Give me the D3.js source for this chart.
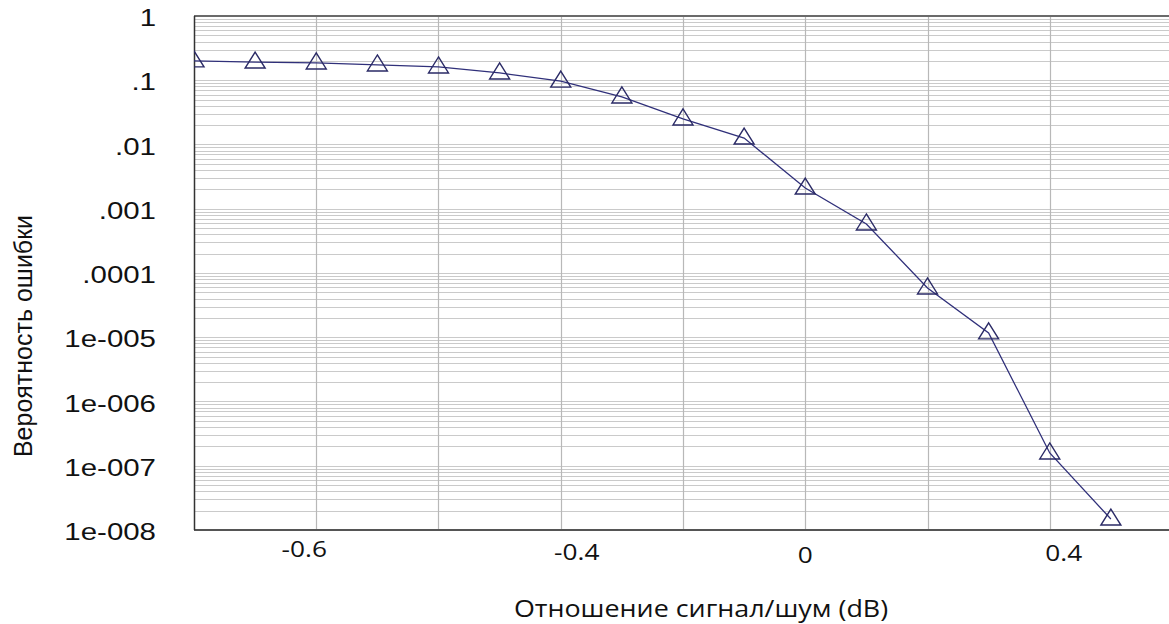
<!DOCTYPE html>
<html>
<head>
<meta charset="utf-8">
<script src="https://cdn.jsdelivr.net/npm/d3@7"></script>
<style>
  body { margin: 0; background: #fff; }
  svg { display: block; }
</style>
</head>
<body>
<div id="chart"></div>
<script>

// signal/noise points and error probability
const snrValues = [-0.7, -0.65, -0.6, -0.55, -0.5, -0.45, -0.4, -0.35,
                   -0.3, -0.25, -0.2, -0.15, -0.1, -0.05, 0.0, 0.05];
const errorProb = [0.20, 0.192, 0.186, 0.173, 0.161, 0.130, 0.097, 0.055,
                   0.025, 0.0126, 0.0021, 0.00058, 0.0000585, 0.0000117, 0.000000158, 0.0000000148];

const yTickValues = [1, 0.1, 0.01, 0.001, 0.0001, 1e-5, 1e-6, 1e-7, 1e-8];
const yTickLabels = ["1", ".1", ".01", ".001", ".0001", "1e-005", "1e-006", "1e-007", "1e-008"];

const xTickValues = [-0.6, -0.4, -0.2, 0.0];
const xTickLabels = ["-0.6", "-0.4", "0", "0.4"];
const xGridValues = [-0.6, -0.5, -0.4, -0.3, -0.2, -0.1, 0.0];

const xTitle = "Отношение сигнал/шум (dB)";
const yTitle = "Вероятность ошибки";

class ErrorRateVis {

    constructor(parentElement) {
        this.parentElement = parentElement;
        this.initVis();
    }

    initVis() {
        let vis = this;

        vis.margin = {top: 16, right: -3, bottom: 94, left: 194};
        vis.totalWidth = 1169;
        vis.totalHeight = 624;
        vis.width = vis.totalWidth - vis.margin.left - vis.margin.right;
        vis.height = vis.totalHeight - vis.margin.top - vis.margin.bottom;

        vis.svg = d3.select("#" + vis.parentElement)
            .append("svg")
            .attr("width", vis.totalWidth)
            .attr("height", vis.totalHeight);

        vis.svg.append("clipPath")
            .attr("id", "plot-clip")
            .append("rect")
            .attr("width", vis.width)
            .attr("height", vis.height);

        vis.g = vis.svg.append("g")
            .attr("transform", `translate(${vis.margin.left},${vis.margin.top})`);

        vis.x = d3.scaleLinear().domain([-0.7, 0.1]).range([0, vis.width]);
        vis.y = d3.scaleLog().domain([1e-8, 1]).range([vis.height, 0]);

        // minor log grid: 1..9 in every decade
        let minor = [];
        for (let e = -8; e < 0; e++) {
            for (let k = 1; k <= 9; k++) minor.push(k * Math.pow(10, e));
        }
        minor.push(1);

        vis.g.append("g").selectAll("line")
            .data(minor)
            .join("line")
            .attr("x1", 0).attr("x2", vis.width)
            .attr("y1", d => Math.round(vis.y(d)) + 0.5)
            .attr("y2", d => Math.round(vis.y(d)) + 0.5)
            .attr("stroke", "#cacaca")
            .attr("stroke-width", 1);

        vis.g.append("g").selectAll("line")
            .data(xGridValues)
            .join("line")
            .attr("x1", d => Math.round(vis.x(d)) + 0.5)
            .attr("x2", d => Math.round(vis.x(d)) + 0.5)
            .attr("y1", 0).attr("y2", vis.height)
            .attr("stroke", "#b8b8b8")
            .attr("stroke-width", 1.2);

        // frame
        vis.g.append("line")
            .attr("x1", 0).attr("x2", vis.width).attr("y1", 0).attr("y2", 0)
            .attr("stroke", "#6a6a6a").attr("stroke-width", 2);
        vis.g.append("line")
            .attr("x1", 0).attr("x2", vis.width).attr("y1", vis.height).attr("y2", vis.height)
            .attr("stroke", "#555").attr("stroke-width", 2);
        vis.g.append("line")
            .attr("x1", 0.5).attr("x2", 0.5).attr("y1", 0).attr("y2", vis.height)
            .attr("stroke", "#333").attr("stroke-width", 1.5);

        // y tick labels (picture is stretched horizontally)
        vis.svg.append("g").selectAll("g")
            .data(yTickValues)
            .join("g")
            .attr("transform", d => `translate(${vis.margin.left - 38},${vis.margin.top + vis.y(d) + 2}) scale(1.28,1)`)
            .append("text")
            .attr("text-anchor", "end")
            .attr("dy", "0.35em")
            .style("font-family", "'Liberation Sans', Arial, sans-serif")
            .style("font-size", "23px")
            .style("fill", "#111")
            .text((d, i) => yTickLabels[i]);

        // x tick labels
        let xNudge = [-12, 16, 0, 14];
        let yNudge = [0, 3, 6, 4];
        vis.svg.append("g").selectAll("g")
            .data(xTickValues)
            .join("g")
            .attr("transform", (d, i) => `translate(${vis.margin.left + vis.x(d) + xNudge[i]},${vis.margin.top + vis.height + 20 + yNudge[i]}) scale(1.25,1)`)
            .append("text")
            .attr("text-anchor", "middle")
            .attr("dy", "0.35em")
            .style("font-family", "'Open Sans', sans-serif")
            .style("font-size", "21px")
            .style("fill", "#111")
            .text((d, i) => xTickLabels[i]);

        // axis titles
        vis.svg.append("g")
            .attr("transform", `translate(701,609) scale(1.12,1)`)
            .append("text")
            .attr("text-anchor", "middle")
            .attr("dy", "0.35em")
            .style("font-family", "'Open Sans', sans-serif")
            .style("font-size", "24px")
            .style("fill", "#111")
            .text(xTitle);

        vis.svg.append("g")
            .attr("transform", `translate(23,336) rotate(-90)`)
            .append("text")
            .attr("text-anchor", "middle")
            .attr("dy", "0.35em")
            .style("font-family", "'Liberation Sans', Arial, sans-serif")
            .style("font-size", "25px")
            .style("fill", "#111")
            .text(yTitle);

        vis.data = snrValues.map((s, i) => ({snr: s, p: errorProb[i]}));
        vis.updateVis();
    }

    updateVis() {
        let vis = this;

        let line = d3.line()
            .x(d => vis.x(d.snr))
            .y(d => vis.y(d.p));

        let plot = vis.g.append("g").attr("clip-path", "url(#plot-clip)");

        plot.append("path")
            .datum(vis.data)
            .attr("fill", "none")
            .attr("stroke", "#30307a")
            .attr("stroke-width", 1.3)
            .attr("d", line);

        // open triangles, apex 10px above the point, base 6px below
        plot.selectAll(".marker")
            .data(vis.data)
            .join("path")
            .attr("class", "marker")
            .attr("transform", d => `translate(${vis.x(d.snr)},${vis.y(d.p)})`)
            .attr("d", "M0,-10L10,6L-10,6Z")
            .attr("fill", "none")
            .attr("stroke", "#2a2a66")
            .attr("stroke-width", 1.4);
    }
}

new ErrorRateVis("chart");

</script>
</body>
</html>
